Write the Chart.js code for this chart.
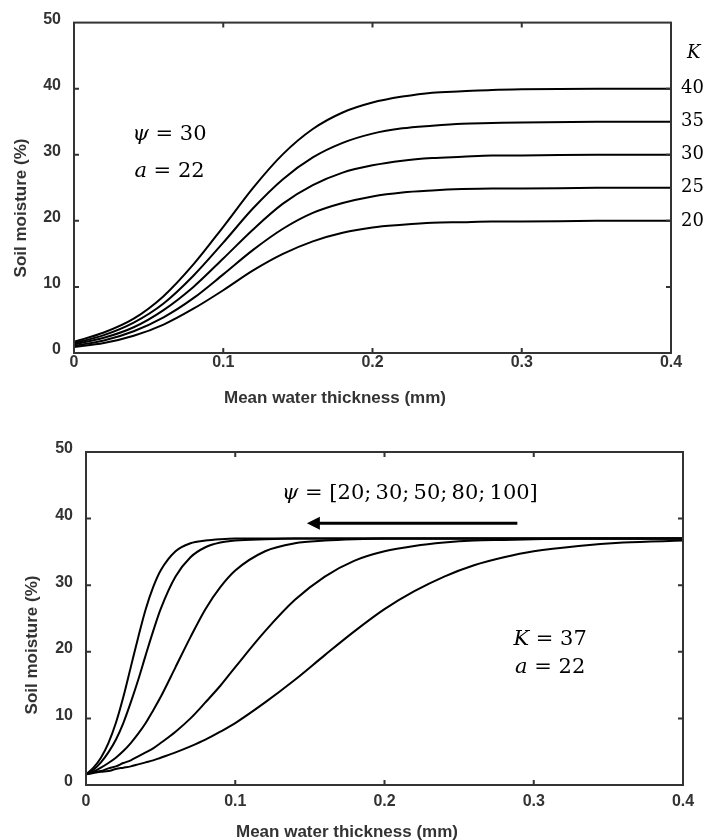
<!DOCTYPE html>
<html>
<head>
<meta charset="utf-8">
<title>Soil moisture vs mean water thickness</title>
<script src="https://cdn.jsdelivr.net/npm/chart.js@4.4.1/dist/chart.umd.min.js"></script>
<style>
  body { margin: 0; background: #fff; }
  canvas { display: block; }
</style>
</head>
<body>
<canvas id="topChart" width="706" height="420"></canvas>
<canvas id="bottomChart" width="706" height="420"></canvas>
<script>
// values (mm -> %)
const topX = [0, 0.02, 0.04, 0.06, 0.08, 0.1, 0.12, 0.14, 0.16, 0.18, 0.2, 0.22, 0.24, 0.26, 0.28, 0.3, 0.35, 0.4];
const k40 = [1.7, 3.1, 5.2, 8.6, 13.4, 19.1, 25.0, 30.1, 33.9, 36.4, 37.9, 38.8, 39.4, 39.6, 39.8, 39.9, 40.0, 40.0];
const k35 = [1.5, 2.7, 4.6, 7.5, 11.7, 16.7, 21.9, 26.3, 29.6, 31.8, 33.2, 34.0, 34.4, 34.7, 34.8, 34.9, 35.0, 35.0];
const k30 = [1.3, 2.3, 3.9, 6.5, 10.0, 14.3, 18.7, 22.6, 25.4, 27.3, 28.4, 29.1, 29.5, 29.7, 29.9, 29.9, 30.0, 30.0];
const k25 = [1.1, 1.9, 3.3, 5.4, 8.3, 11.9, 15.6, 18.8, 21.2, 22.7, 23.7, 24.3, 24.6, 24.8, 24.9, 24.9, 25.0, 25.0];
const k20 = [0.9, 1.5, 2.6, 4.3, 6.7, 9.5, 12.5, 15.0, 16.9, 18.2, 19.0, 19.4, 19.7, 19.8, 19.9, 19.9, 20.0, 20.0];
const kValues = [40, 35, 30, 25, 20];

const bottomX = [0, 0.005, 0.01, 0.015, 0.02, 0.025, 0.03, 0.035, 0.04, 0.045, 0.05, 0.06, 0.07, 0.08, 0.09, 0.1,
  0.12, 0.14, 0.16, 0.18, 0.2, 0.22, 0.24, 0.26, 0.28, 0.3, 0.33, 0.36, 0.4];
const psi100 = [1.6, 2.6, 4.1, 6.3, 9.3, 13.2, 17.7, 22.2, 26.4, 29.7, 32.2, 35.1, 36.3, 36.7, 36.9, 37.0,
  37.0, 37.0, 37.0, 37.0, 37.0, 37.0, 37.0, 37.0, 37.0, 37.0, 37.0, 37.0, 37.0];
const psi80 = [1.6, 2.3, 3.4, 4.9, 6.8, 9.3, 12.4, 15.8, 19.5, 23.1, 26.4, 31.3, 34.2, 35.7, 36.4, 36.7,
  36.9, 37.0, 37.0, 37.0, 37.0, 37.0, 37.0, 37.0, 37.0, 37.0, 37.0, 37.0, 37.0];
const psi50 = [1.6, 2.0, 2.6, 3.3, 4.1, 5.1, 6.3, 7.7, 9.3, 11.2, 13.2, 17.7, 22.2, 26.4, 29.7, 32.2,
  35.1, 36.3, 36.7, 36.9, 37.0, 37.0, 37.0, 37.0, 37.0, 37.0, 37.0, 37.0, 37.0];
const psi30 = [1.6, 1.9, 2.1, 2.5, 2.8, 3.3, 3.7, 4.3, 4.9, 5.5, 6.3, 8.0, 10.0, 12.4, 14.9, 17.7,
  23.1, 27.8, 31.3, 33.7, 35.1, 35.9, 36.4, 36.7, 36.8, 36.9, 37.0, 37.0, 37.0];
const psi20 = [1.6, 1.8, 2.0, 2.1, 2.4, 2.6, 2.8, 3.1, 3.4, 3.7, 4.1, 4.9, 5.8, 6.8, 8.0, 9.3,
  12.4, 15.8, 19.5, 23.1, 26.4, 29.1, 31.3, 33.0, 34.2, 35.1, 35.9, 36.4, 36.7];

const xTickLabels = ['0', '0.1', '0.2', '0.3', '0.4'];
const yTickLabels = ['0', '10', '20', '30', '40', '50'];
const xTitle = 'Mean water thickness (mm)';
const yTitle = 'Soil moisture (%)';

const SANS = '"Liberation Sans", Arial, sans-serif';
const SERIF = '"DejaVu Serif", "Liberation Serif", serif';
const TEXT = '#333';

function series(xs, ys) {
  return { data: xs.map((x, i) => ({ x: x, y: ys[i] })) };
}

// draws pieces like ['ψ', true] (italic) and [' = 30', false]
function mathText(ctx, parts, x, y, align, size) {
  let w = 0;
  parts.forEach(p => {
    ctx.font = (p[1] ? 'italic ' : '') + size + 'px ' + SERIF;
    w += ctx.measureText(p[0]).width;
  });
  let cx = align === 'left' ? x : x - w / 2;
  ctx.textAlign = 'left';
  ctx.textBaseline = 'middle';
  ctx.fillStyle = '#000';
  parts.forEach(p => {
    ctx.font = (p[1] ? 'italic ' : '') + size + 'px ' + SERIF;
    ctx.fillText(p[0], cx, y);
    cx += ctx.measureText(p[0]).width;
  });
}

function framePlugin(titlePos, extra) {
  return {
    id: 'frame',
    afterDraw(chart) {
      const ctx = chart.ctx, a = chart.chartArea;
      const xs = chart.scales.x, ys = chart.scales.y;
      ctx.save();
      ctx.strokeStyle = TEXT;
      ctx.lineWidth = 2;
      ctx.strokeRect(a.left, a.top, a.right - a.left, a.bottom - a.top);
      // inward ticks on all four sides
      ctx.beginPath();
      xs.ticks.forEach(t => {
        const px = xs.getPixelForValue(t.value);
        if (px <= a.left + 1 || px >= a.right - 1) return;
        ctx.moveTo(px, a.bottom); ctx.lineTo(px, a.bottom - 5);
        ctx.moveTo(px, a.top); ctx.lineTo(px, a.top + 5);
      });
      ys.ticks.forEach(t => {
        const py = ys.getPixelForValue(t.value);
        if (py <= a.top + 1 || py >= a.bottom - 1) return;
        ctx.moveTo(a.left, py); ctx.lineTo(a.left + 5, py);
        ctx.moveTo(a.right, py); ctx.lineTo(a.right - 5, py);
      });
      ctx.stroke();

      // axis titles
      ctx.fillStyle = TEXT;
      ctx.font = 'bold 17px ' + SANS;
      ctx.textAlign = 'center';
      ctx.textBaseline = 'middle';
      ctx.fillText(xTitle, titlePos.xt[0], titlePos.xt[1]);
      ctx.save();
      ctx.translate(titlePos.yt[0], titlePos.yt[1]);
      ctx.rotate(-Math.PI / 2);
      ctx.fillText(yTitle, 0, 0);
      ctx.restore();

      extra(ctx, chart);
      ctx.restore();
    }
  };
}

function makeOptions(cfg) {
  const tickFont = { family: SANS, size: 16, weight: 'bold' };
  return {
    responsive: false,
    animation: false,
    layout: { padding: cfg.padding },
    plugins: { legend: { display: false }, tooltip: { enabled: false } },
    elements: {
      point: { radius: 0 },
      line: { borderWidth: 2, borderColor: '#000', cubicInterpolationMode: 'monotone', fill: false }
    },
    scales: {
      x: {
        type: 'linear', min: 0, max: 0.4,
        afterFit: s => { s.height = cfg.xHeight; },
        grid: { display: false, drawTicks: false },
        border: { display: false },
        ticks: {
          stepSize: 0.1, padding: cfg.xPad, color: TEXT, font: tickFont,
          maxRotation: 0, autoSkip: false,
          callback: (v, i) => xTickLabels[i]
        }
      },
      y: {
        type: 'linear', min: 0, max: 50,
        afterFit: s => { s.width = cfg.yWidth; },
        grid: { display: false, drawTicks: false },
        border: { display: false },
        ticks: {
          stepSize: 10, padding: 13, labelOffset: -3, color: TEXT, font: tickFont,
          autoSkip: false,
          callback: (v, i) => yTickLabels[i]
        }
      }
    }
  };
}

// top panel: varying K
new Chart(document.getElementById('topChart'), {
  type: 'line',
  data: {
    datasets: [k40, k35, k30, k25, k20].map(ys => series(topX, ys))
  },
  options: makeOptions({ padding: { top: 20, right: 35, left: 0, bottom: 0 }, xHeight: 67, yWidth: 74, xPad: 0 }),
  plugins: [framePlugin({ xt: [335, 398], yt: [21, 208] }, (ctx, chart) => {
    const xs = chart.scales.x, ys = chart.scales.y, a = chart.chartArea;
    mathText(ctx, [['ψ', true], [' = 30', false]], xs.getPixelForValue(0.064), ys.getPixelForValue(33), 'center', 21);
    mathText(ctx, [['a', true], [' = 22', false]], xs.getPixelForValue(0.064), ys.getPixelForValue(27.5), 'center', 21);
    mathText(ctx, [['K', true]], a.right + 16, ys.getPixelForValue(45.3), 'left', 18);
    kValues.forEach(k => {
      mathText(ctx, [[String(k), false]], a.right + 10, ys.getPixelForValue(k), 'left', 18);
    });
  })]
});

// bottom panel: varying psi
new Chart(document.getElementById('bottomChart'), {
  type: 'line',
  data: {
    datasets: [psi20, psi30, psi50, psi80, psi100].map(ys => series(bottomX, ys))
  },
  options: makeOptions({ padding: { top: 32, right: 23, left: 0, bottom: 0 }, xHeight: 55, yWidth: 86, xPad: 7 }),
  plugins: [framePlugin({ xt: [347, 412], yt: [32, 225] }, (ctx, chart) => {
    const xs = chart.scales.x, ys = chart.scales.y;
    mathText(ctx, [['ψ', true], [' = [20;\u200930;\u200950;\u200980;\u2009100]', false]], xs.getPixelForValue(0.217), ys.getPixelForValue(43.8), 'center', 21);
    mathText(ctx, [['K', true], [' = 37', false]], xs.getPixelForValue(0.311), ys.getPixelForValue(21.8), 'center', 21);
    mathText(ctx, [['a', true], [' = 22', false]], xs.getPixelForValue(0.311), ys.getPixelForValue(17.7), 'center', 21);
    // arrow pointing toward small psi
    const y0 = ys.getPixelForValue(39.3);
    const xStart = xs.getPixelForValue(0.289), xEnd = xs.getPixelForValue(0.148);
    ctx.strokeStyle = '#000';
    ctx.lineWidth = 3;
    ctx.beginPath();
    ctx.moveTo(xStart, y0);
    ctx.lineTo(xEnd + 10, y0);
    ctx.stroke();
    ctx.fillStyle = '#000';
    ctx.beginPath();
    ctx.moveTo(xEnd, y0);
    ctx.lineTo(xEnd + 13, y0 - 6.5);
    ctx.lineTo(xEnd + 13, y0 + 6.5);
    ctx.closePath();
    ctx.fill();
  })]
});
</script>
</body>
</html>
